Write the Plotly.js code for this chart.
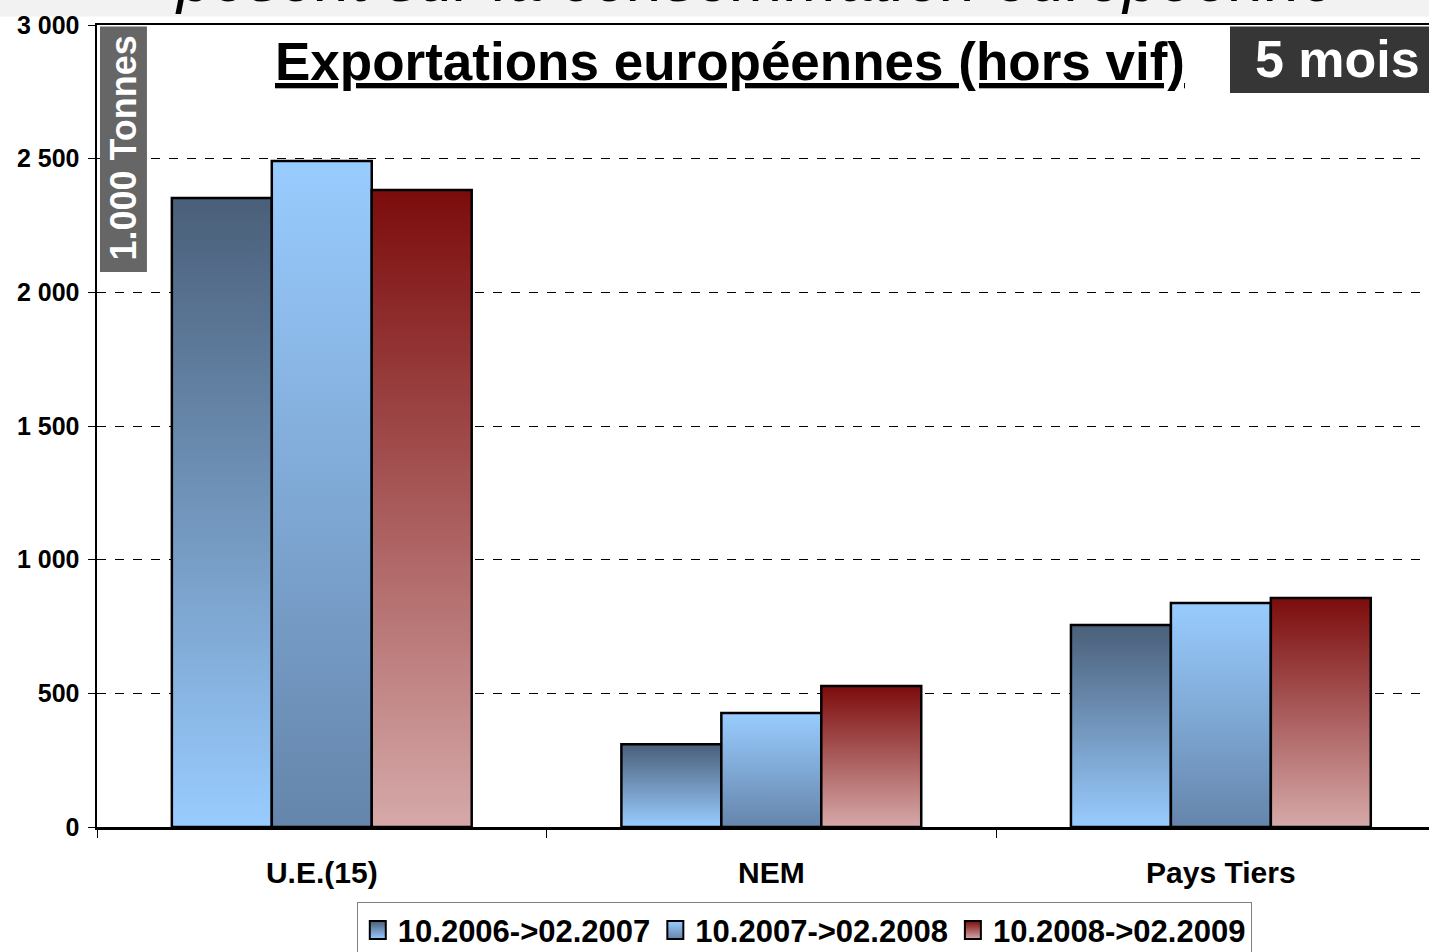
<!DOCTYPE html>
<html>
<head>
<meta charset="utf-8">
<script src="https://cdn.plot.ly/plotly-3.0.1.min.js"></script>
<style>
html,body{margin:0;padding:0;background:#fff;}
#chart{width:1429px;height:952px;}
</style>
</head>
<body>
<div id="chart"></div>
<script>
var categories = ["U.E.(15)", "NEM", "Pays Tiers"];
var seriesNames = ["10.2006->02.2007", "10.2007->02.2008", "10.2008->02.2009"];
var s2006 = [2353, 310, 756];
var s2007 = [2491, 426, 838];
var s2008 = [2383, 527, 857];
var yTicks = [0, 500, 1000, 1500, 2000, 2500, 3000];

var FONT = "Liberation Sans, Arial, sans-serif";
var gradients = [
  ["#4a5f79", "#99ccff"],
  ["#99ccff", "#6585ab"],
  ["#7c0c0c", "#d6a9a9"]
];
var solid = ["#5a7595", "#8ab8e6", "#a45a5a"];

var series = [s2006, s2007, s2008];
var traces = series.map(function (vals, i) {
  return {
    type: "bar",
    name: seriesNames[i],
    x: categories,
    y: vals,
    marker: {color: solid[i], line: {color: "#000", width: 2.5}},
    hoverinfo: "none"
  };
});

var layout = {
  width: 1429,
  height: 952,
  margin: {l: 97, r: 0, t: 25, b: 125, autoexpand: false},
  paper_bgcolor: "#fff",
  plot_bgcolor: "#fff",
  separators: ", ",
  barmode: "group",
  bargap: 0.333,
  bargroupgap: 0,
  font: {family: FONT, color: "#000"},
  xaxis: {
    type: "category",
    range: [-0.5, 2.463],
    showline: true, linecolor: "#000", linewidth: 2.5, mirror: true,
    ticks: "outside", tickson: "boundaries", ticklen: 8, tickcolor: "#000", tickwidth: 1,
    tickfont: {family: FONT, size: 30, color: "#000", weight: "bold"},
    ticklabelstandoff: 17,
    showgrid: false, zeroline: false, fixedrange: true
  },
  yaxis: {
    range: [0, 3000],
    tickvals: yTicks,
    tickformat: ",d",
    showline: true, linecolor: "#000", linewidth: 2.5,
    ticks: "outside", ticklen: 7, tickcolor: "#000", tickwidth: 1,
    tickfont: {family: FONT, size: 25, color: "#000", weight: "bold"},
    ticklabelstandoff: 3,
    showgrid: true, gridcolor: "#000", gridwidth: 1, griddash: "dash",
    zeroline: false, fixedrange: true
  },
  showlegend: true,
  legend: {
    orientation: "h",
    x: 0.531, xanchor: "center",
    y: -0.094, yanchor: "top",
    bgcolor: "#fff", bordercolor: "#7f7f7f", borderwidth: 1,
    font: {family: FONT, size: 31, color: "#000", weight: "bold"},
    itemwidth: 30, tracegroupgap: 0
  },
  shapes: [
    {type: "rect", xref: "paper", yref: "paper", x0: -0.1, x1: 1.1, y0: 1.0106, y1: 1.1,
     fillcolor: "#f2f2f2", line: {width: 0}, layer: "below"},
    {type: "rect", xref: "paper", yref: "paper", x0: 0.00225, x1: 0.0375, y0: 0.692, y1: 0.998,
     fillcolor: "#666666", line: {width: 0}, layer: "above"},
    {type: "rect", xref: "paper", yref: "paper", x0: 0.8506, x1: 1.0, y0: 0.9152, y1: 0.998,
     fillcolor: "#363636", line: {width: 0}, layer: "above"}
  ],
  annotations: [
    {text: "<u>Exportations européennes (hors vif)</u>", xref: "paper", yref: "paper",
     x: 0.475, y: 0.955, xanchor: "center", yanchor: "middle", showarrow: false,
     font: {family: FONT, size: 53, color: "#000", weight: "bold"}},
    {text: "5 mois", xref: "paper", yref: "paper",
     x: 0.9315, y: 0.957, xanchor: "center", yanchor: "middle", showarrow: false,
     font: {family: FONT, size: 52, color: "#fff", weight: "bold"}},
    {text: "1.000 Tonnes", xref: "paper", yref: "paper", textangle: -90,
     x: 0.0199, y: 0.8466, xanchor: "center", yanchor: "middle", showarrow: false,
     font: {family: FONT, size: 36, color: "#fff", weight: "bold"}},
    {text: "<i>pèsent sur la consommation européenne</i>", xref: "paper", yref: "paper",
     x: 0.495, y: 1.0105, xanchor: "center", yanchor: "bottom", showarrow: false,
     font: {family: FONT, size: 64, color: "#000"}}
  ]
};

function applyGradients(gd) {
  var svg = gd.querySelector("svg.main-svg");
  var ns = "http://www.w3.org/2000/svg";
  var defs = svg.querySelector("defs") || svg.insertBefore(document.createElementNS(ns, "defs"), svg.firstChild);
  gradients.forEach(function (g, i) {
    var lg = document.createElementNS(ns, "linearGradient");
    lg.setAttribute("id", "bargrad" + i);
    lg.setAttribute("x1", "0"); lg.setAttribute("y1", "0");
    lg.setAttribute("x2", "0"); lg.setAttribute("y2", "1");
    [[0, g[0]], [1, g[1]]].forEach(function (s) {
      var st = document.createElementNS(ns, "stop");
      st.setAttribute("offset", s[0]);
      st.setAttribute("stop-color", s[1]);
      lg.appendChild(st);
    });
    defs.appendChild(lg);
  });
  var barTraces = gd.querySelectorAll(".barlayer .trace");
  barTraces.forEach(function (t, i) {
    t.querySelectorAll("path").forEach(function (p) { p.style.fill = "url(#bargrad" + i + ")"; });
  });
  var legTraces = gd.querySelectorAll(".legend .traces");
  legTraces.forEach(function (t, i) {
    t.querySelectorAll(".legendpoints path").forEach(function (p) {
      p.setAttribute("d", "M8,9H-8V-9H8Z");
      p.style.fill = "url(#bargrad" + i + ")";
      p.style.stroke = "#000";
      p.style.strokeWidth = "2px";
    });
  });
}

Plotly.newPlot("chart", traces, layout, {staticPlot: true, displayModeBar: false}).then(applyGradients);
</script>
</body>
</html>
